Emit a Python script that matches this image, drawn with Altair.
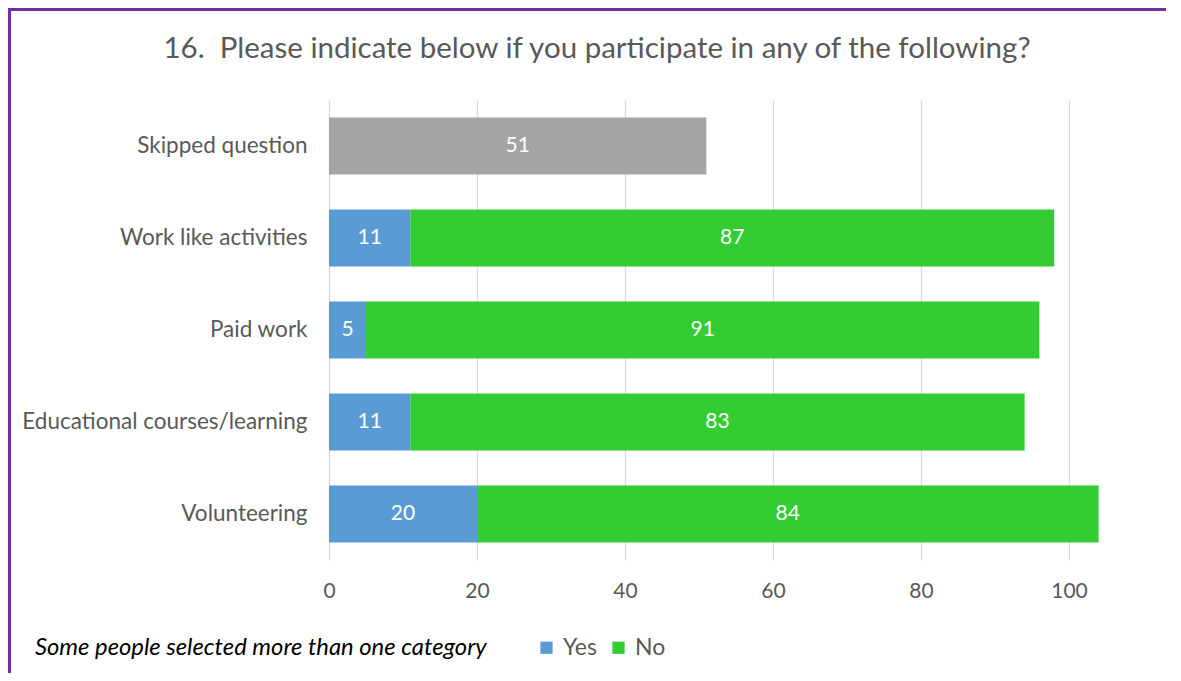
import altair as alt
import pandas as pd

categories = ["Skipped question", "Work like activities", "Paid work",
              "Educational courses/learning", "Volunteering"]
yes_values = [None, 11, 5, 11, 20]
no_values = [None, 87, 91, 83, 84]
skipped_values = [51, None, None, None, None]
series = ["Yes", "No", "Skipped"]
colors = ["#5B9BD5", "#33CC33", "#A5A5A5"]
legend_values = ["Yes", "No"]
x_ticks = [0, 20, 40, 60, 80, 100]
title_text = "16.\u00a0 Please indicate below if you participate in any of the following?"
note_text = "Some people selected more than one category"

rows = []
for c, yv, nv, sv in zip(categories, yes_values, no_values, skipped_values):
    for name, v in (("Yes", yv), ("No", nv), ("Skipped", sv)):
        if v is not None:
            rows.append({"category": c, "series": name, "value": v,
                         "order": series.index(name)})
df = pd.DataFrame(rows)

FONT = "Lato"
GREY = "#595959"

base = alt.Chart(df).transform_stack(
    stack="value", groupby=["category"], as_=["x0", "x1"],
    sort=[alt.SortField("order", order="ascending")]
).transform_calculate(mid="(datum.x0 + datum.x1) / 2")

y_enc = alt.Y("category:N", sort=categories, title=None,
              scale=alt.Scale(paddingInner=0.38, paddingOuter=0.19),
              axis=alt.Axis(ticks=False, domain=False, labelFont=FONT,
                            labelFontSize=22.5, labelColor=GREY, labelPadding=22,
                            labelLimit=400))

bars = base.mark_bar().encode(
    y=y_enc,
    x=alt.X("x0:Q", title=None,
            scale=alt.Scale(domain=[0, 105], nice=False, zero=True),
            axis=alt.Axis(values=x_ticks, ticks=False, domain=False,
                          grid=True, gridColor="#D9D9D9", gridWidth=1.3,
                          labelFlush=False,
                          labelFont=FONT, labelFontSize=21, labelColor=GREY,
                          labelPadding=20)),
    x2="x1:Q",
    color=alt.Color("series:N", title=None,
                    scale=alt.Scale(domain=series, range=colors),
                    legend=alt.Legend(values=legend_values, orient="none",
                                      legendX=206, legendY=536,
                                      direction="horizontal",
                                      symbolType="square", symbolSize=150,
                                      symbolStrokeWidth=0, labelFont=FONT,
                                      labelFontSize=23, labelColor=GREY,
                                      labelOffset=5, columnPadding=10)),
)

labels = base.mark_text(color="white", font=FONT, fontSize=21).encode(
    y=alt.Y("category:N", sort=categories),
    x=alt.X("mid:Q"),
    text=alt.Text("value:Q"),
)

title = alt.Chart(alt.Data(values=[{"t": title_text}])).mark_text(
    align="center", baseline="middle", font=FONT, fontSize=29.5,
    color=GREY
).encode(x=alt.value(268), y=alt.value(-51), text="t:N")

note = alt.Chart(alt.Data(values=[{"t": note_text}])).mark_text(
    align="left", baseline="middle", font=FONT, fontSize=23.8,
    fontStyle="italic", color="#000000"
).encode(x=alt.value(-294), y=alt.value(548), text="t:N")

border_left = alt.Chart(alt.Data(values=[{}])).mark_rule(
    color="#7030A0", strokeWidth=3
).encode(x=alt.value(-319.5), y=alt.value(-90.5), y2=alt.value(575))

border_top = alt.Chart(alt.Data(values=[{}])).mark_rule(
    color="#7030A0", strokeWidth=3
).encode(x=alt.value(-321), x2=alt.value(837), y=alt.value(-90.5))

chart = alt.layer(bars, labels, title, note, border_left, border_top).properties(
    width=777, height=460,
    autosize=alt.AutoSizeParams(type="none"),
    padding={"left": 321, "top": 92, "right": 60, "bottom": 113},
).configure_view(stroke=None)

chart.save("out.html", embed_options={"renderer": "svg", "actions": False})
